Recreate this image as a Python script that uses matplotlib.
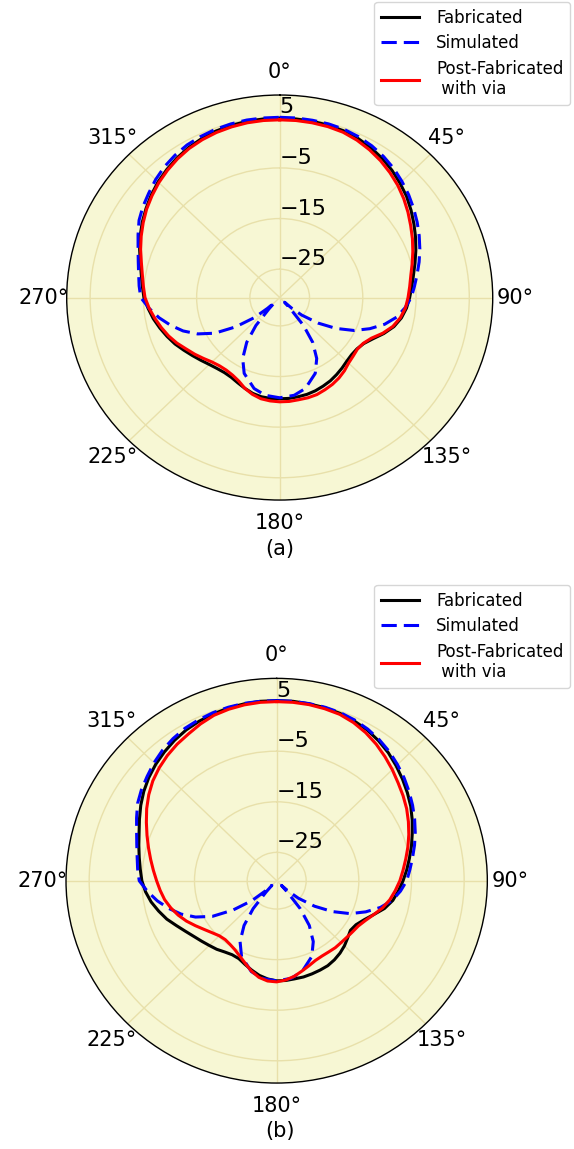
import numpy as np
import matplotlib
matplotlib.use("Agg")
import matplotlib.pyplot as plt

# Sample angles (deg) of the measured patterns, every 5 degrees
theta_meas = list(range(0, 360, 5))

# Panel (a) measured gain (dB); rows: 0-85, 90-175, 180-265, 270-355 deg
fab_a = [4.8, 4.8, 4.75, 4.65, 4.45, 4.1, 3.6, 2.95, 2.2, 1.35, 0.5, -0.5, -1.5, -2.45, -3.4, -4.3, -5.1, -5.7,
         -6.2, -6.7, -7.4, -8.4, -9.8, -11.3, -12.4, -12.9, -13.0, -12.8, -12.4, -12.0, -11.6, -11.3, -11.0, -10.8, -10.7, -10.6,
         -10.6, -10.6, -10.7, -11.0, -11.5, -12.0, -12.4, -12.5, -12.3, -11.9, -11.3, -10.6, -9.8, -8.9, -8.1, -7.3, -6.5, -5.8,
         -5.1, -4.7, -4.2, -3.5, -2.6, -1.7, -0.8, 0.05, 0.9, 1.7, 2.4, 3.05, 3.6, 4.05, 4.4, 4.6, 4.75, 4.8]
via_a = [4.5, 4.5, 4.45, 4.35, 4.15, 3.7, 3.1, 2.4, 1.6, 0.75, -0.2, -1.2, -2.2, -3.1, -4.0, -4.85, -5.6, -6.1,
         -6.5, -6.9, -7.6, -8.6, -10.0, -11.6, -12.5, -12.8, -12.6, -12.3, -11.7, -11.2, -10.8, -10.5, -10.2, -10.1, -10.1, -10.0,
         -10.0, -10.1, -10.3, -10.8, -11.5, -12.4, -12.9, -13.1, -13.0, -12.6, -11.9, -11.1, -10.3, -9.3, -8.4, -7.6, -6.8, -6.0,
         -5.3, -4.9, -4.4, -3.7, -2.8, -1.9, -1.0, -0.1, 0.7, 1.5, 2.2, 2.85, 3.4, 3.8, 4.1, 4.3, 4.45, 4.5]

# Panel (b) measured gain (dB)
fab_b = [5.0, 5.0, 4.9, 4.8, 4.6, 4.25, 3.8, 3.15, 2.4, 1.5, 0.6, -0.3, -1.2, -2.2, -3.2, -4.1, -5.0, -5.8,
         -6.6, -7.4, -8.2, -9.4, -11.0, -12.3, -13.2, -13.5, -13.0, -12.4, -11.9, -11.5, -11.2, -11.1, -11.0, -10.9, -10.9, -10.8,
         -10.8, -11.1, -11.6, -12.3, -13.0, -13.6, -13.7, -13.4, -12.9, -12.5, -12.0, -11.4, -10.6, -9.6, -8.4, -7.4, -6.4, -5.6,
         -5.0, -4.6, -4.1, -3.5, -2.8, -1.85, -0.8, 0.2, 1.1, 1.9, 2.6, 3.25, 3.8, 4.2, 4.5, 4.75, 4.9, 5.0]
via_b = [4.8, 4.8, 4.75, 4.6, 4.4, 3.9, 3.2, 2.35, 1.4, 0.45, -0.5, -1.3, -2.1, -3.0, -3.9, -4.8, -5.7, -6.5,
         -7.2, -8.0, -8.8, -9.8, -11.0, -12.0, -12.7, -13.0, -13.2, -13.3, -13.3, -13.4, -13.4, -13.2, -12.7, -12.1, -11.4, -10.9,
         -10.6, -10.7, -11.2, -12.1, -13.2, -14.1, -14.8, -15.2, -15.4, -15.2, -14.6, -13.8, -12.8, -11.7, -10.7, -9.8, -9.0, -8.4,
         -7.8, -7.1, -6.3, -5.4, -4.4, -3.3, -2.1, -0.95, 0.1, 0.95, 1.7, 2.35, 2.9, 3.6, 4.2, 4.5, 4.7, 4.8]

# Simulated pattern (same for both panels)
theta_sim = [0, 5, 10, 15, 20, 25, 30, 35, 40, 45, 50, 55, 60, 65, 70, 75, 80, 85, 90,
             95, 100, 105, 110, 115, 120, 125, 130, 133, 135.5, 138,
             141, 145, 150, 156, 165, 172, 180, 188, 195, 204,
             210, 215, 219, 222, 224.5, 227, 230, 235, 240, 245,
             250, 255, 260, 265,
             270, 275, 280, 285, 290, 295, 300, 305, 310, 315, 320, 325, 330, 335, 340, 345, 350, 355]
sim_db = [5.0, 5.0, 4.95, 4.9, 4.75, 4.45, 4.0, 3.4, 2.7, 1.85, 1.0, 0.1, -0.8, -1.7, -2.6, -3.5, -4.4, -5.2, -5.9,
          -7.0, -8.3, -10.2, -12.6, -15.2, -18.4, -21.8, -25.2, -27.5, -29.3, -27.6,
          -23.5, -19.8, -16.7, -14.2, -12.0, -11.1, -10.8, -11.1, -12.0, -14.2,
          -16.7, -19.8, -23.5, -27.6, -29.3, -27.5, -24.5, -20.5, -16.5, -13.6,
          -11.3, -9.4, -7.6, -6.0,
          -4.5, -4.1, -3.7, -3.1, -2.3, -1.25, -0.1, 0.75, 1.5, 2.35, 3.1, 3.7, 4.2, 4.5, 4.75, 4.9, 5.0, 5.0]

r_ticks = [-25, -15, -5, 5]
r_lim = (-30.6, 9.4)
labels = ["Fabricated", "Simulated", "Post-Fabricated\n with via"]

face = "#f7f7d4"
grid_col = "#e8e0aa"


def closed(th, r):
    th = np.deg2rad(np.append(th, th[0] + 360))
    return th, np.append(r, r[0])


def draw_panel(fig, rect, fab, via, caption, cap_y, leg_top):
    ax = fig.add_axes(rect, projection="polar")
    ax.set_aspect("auto")
    ax.set_theta_zero_location("N")
    ax.set_theta_direction(-1)
    ax.set_facecolor(face)
    l1, = ax.plot(*closed(theta_meas, fab), color="black", lw=2.2)
    l2, = ax.plot(*closed(theta_sim, sim_db), color="#0000ff", lw=2.2,
                  ls=(0, (5, 2.3)))
    l3, = ax.plot(*closed(theta_meas, via), color="#ff0000", lw=2.2)
    ax.set_ylim(*r_lim)
    ax.set_rticks(r_ticks)
    ax.set_rlabel_position(0)
    ax.tick_params(axis="y", labelsize=16)
    ax.tick_params(axis="x", labelsize=15, pad=6)
    ax.grid(True, color=grid_col, lw=1.0)
    ax.spines["polar"].set_linewidth(1.0)
    fig.legend([l1, l2, l3], labels, loc="upper right",
               bbox_to_anchor=(0.993, leg_top), fontsize=12,
               borderaxespad=0.0, handlelength=2.3, handletextpad=1.0,
               labelspacing=0.45)
    fig.text(0.487, cap_y, caption, ha="center", va="center", fontsize=15)
    return ax


fig = plt.figure(figsize=(5.74, 11.49), dpi=100)
draw_panel(fig, [0.1162, 0.5648, 0.7422, 0.3525], fab_a, via_a, "(a)",
           1 - 549 / 1149, 1 - 2 / 1149)
draw_panel(fig, [0.1150, 0.0574, 0.7340, 0.3522], fab_b, via_b, "(b)",
           1 - 1131 / 1149, 1 - 585 / 1149)

fig.savefig("out.png", dpi=100)
